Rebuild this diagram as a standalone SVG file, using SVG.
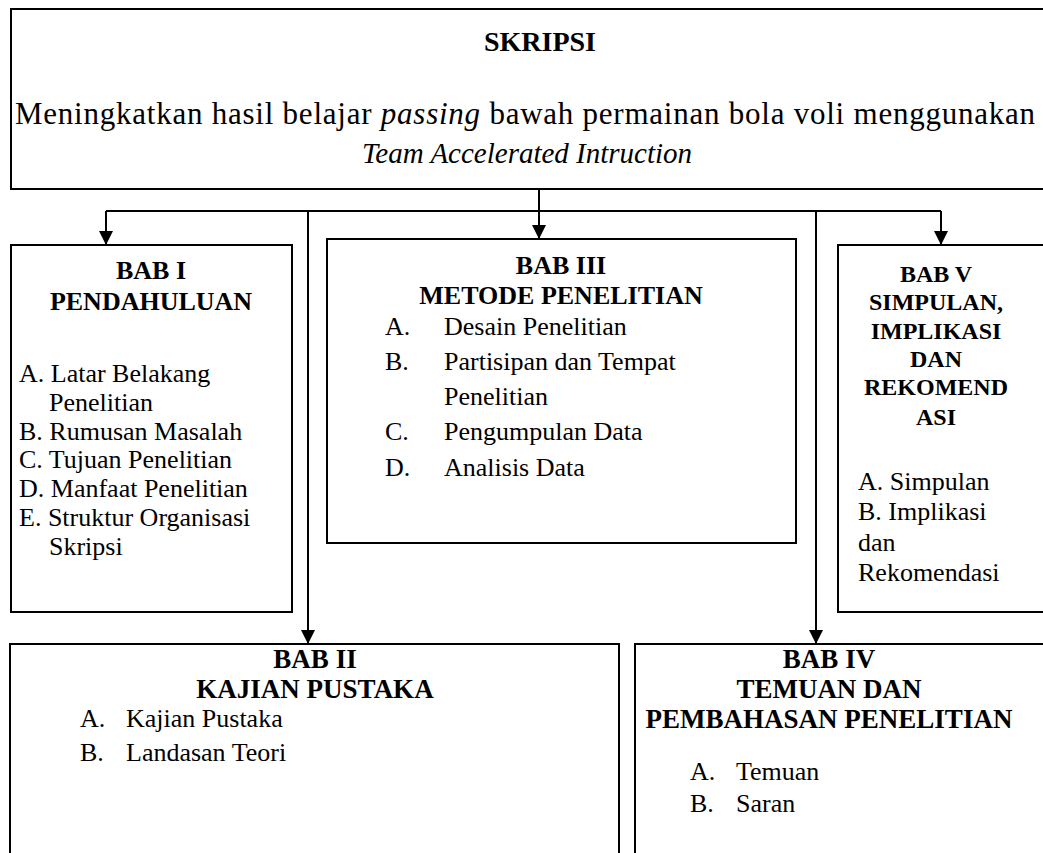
<svg xmlns="http://www.w3.org/2000/svg" width="1043" height="853" viewBox="0 0 1043 853">
<defs>
<marker id="ah" viewBox="0 0 10 10" refX="10" refY="5" markerWidth="7" markerHeight="7" markerUnits="strokeWidth" orient="auto">
<path d="M0,0 L10,5 L0,10 z" fill="#000"/>
</marker>
<style>
.box{fill:#fff;stroke:#000;stroke-width:2}
.ln{fill:none;stroke:#000;stroke-width:2}
.t{font-family:"Liberation Serif","Times New Roman",serif;fill:#000}
.h{font-weight:bold;text-anchor:middle}
.s24{font-size:24px}
.s26{font-size:26px}
.s27{font-size:27px}
</style>
</defs>
<rect width="1043" height="853" fill="#fff"/>
<g id="connectors">
<line class="ln" x1="106" y1="211" x2="941" y2="211"/>
<line class="ln" x1="539" y1="189" x2="539" y2="239" marker-end="url(#ah)"/>
<line class="ln" x1="106" y1="211" x2="106" y2="245" marker-end="url(#ah)"/>
<line class="ln" x1="308" y1="211" x2="308" y2="644" marker-end="url(#ah)"/>
<line class="ln" x1="816" y1="211" x2="816" y2="644" marker-end="url(#ah)"/>
<line class="ln" x1="941" y1="211" x2="941" y2="245" marker-end="url(#ah)"/>
</g>
<g id="skripsi">
<rect class="box" x="11" y="9" width="1045" height="180"/>
<text class="t" x="540" y="51" font-size="28" font-weight="bold" text-anchor="middle">SKRIPSI</text>
<text class="t" x="15" y="124" font-size="31" textLength="1020" lengthAdjust="spacing">Meningkatkan hasil belajar <tspan font-style="italic">passing</tspan> bawah permainan bola voli menggunakan</text>
<text class="t" x="527" y="163" font-size="29" font-style="italic" text-anchor="middle">Team Accelerated Intruction</text>
</g>
<g id="bab1">
<rect class="box" x="11" y="245" width="281" height="367"/>
<text class="t h s26" x="151" y="279">BAB I</text>
<text class="t h s26" x="151" y="310">PENDAHULUAN</text>
<text class="t s26" x="19" y="382">A. Latar Belakang</text>
<text class="t s26" x="49" y="411">Penelitian</text>
<text class="t s26" x="19" y="440">B. Rumusan Masalah</text>
<text class="t s26" x="19" y="468">C. Tujuan Penelitian</text>
<text class="t s26" x="19" y="497">D. Manfaat Penelitian</text>
<text class="t s26" x="19" y="526">E. Struktur Organisasi</text>
<text class="t s26" x="49" y="555">Skripsi</text>
</g>
<g id="bab3">
<rect class="box" x="327" y="239" width="469" height="304"/>
<text class="t h s26" x="561" y="274">BAB III</text>
<text class="t h s26" x="561" y="304">METODE PENELITIAN</text>
<text class="t s26" x="385" y="335">A.</text><text class="t s26" x="444" y="335">Desain Penelitian</text>
<text class="t s26" x="385" y="370">B.</text><text class="t s26" x="444" y="370">Partisipan dan Tempat</text>
<text class="t s26" x="444" y="405">Penelitian</text>
<text class="t s26" x="385" y="440">C.</text><text class="t s26" x="444" y="440">Pengumpulan Data</text>
<text class="t s26" x="385" y="476">D.</text><text class="t s26" x="444" y="476">Analisis Data</text>
</g>
<g id="bab5">
<rect class="box" x="838" y="245" width="215" height="367"/>
<text class="t h s24" x="936" y="282">BAB V</text>
<text class="t h s24" x="936" y="310">SIMPULAN,</text>
<text class="t h s24" x="936" y="339">IMPLIKASI</text>
<text class="t h s24" x="936" y="367">DAN</text>
<text class="t h s24" x="936" y="395">REKOMEND</text>
<text class="t h s24" x="936" y="425">ASI</text>
<text class="t s26" x="858" y="490">A. Simpulan</text>
<text class="t s26" x="858" y="520">B. Implikasi</text>
<text class="t s26" x="858" y="551">dan</text>
<text class="t s26" x="858" y="581">Rekomendasi</text>
</g>
<g id="bab2">
<rect class="box" x="10" y="644" width="609" height="230"/>
<text class="t h s27" x="315" y="668">BAB II</text>
<text class="t h s27" x="315" y="698">KAJIAN PUSTAKA</text>
<text class="t s26" x="80" y="727">A.</text><text class="t s26" x="126" y="727">Kajian  Pustaka</text>
<text class="t s26" x="80" y="761">B.</text><text class="t s26" x="126" y="761">Landasan Teori</text>
</g>
<g id="bab4">
<rect class="box" x="635" y="644" width="420" height="230"/>
<text class="t h s27" x="829" y="668">BAB IV</text>
<text class="t h s27" x="829" y="698">TEMUAN DAN</text>
<text class="t h s27" x="829" y="728">PEMBAHASAN PENELITIAN</text>
<text class="t s26" x="690" y="780">A.</text><text class="t s26" x="736" y="780">Temuan</text>
<text class="t s26" x="690" y="812">B.</text><text class="t s26" x="736" y="812">Saran</text>
</g>
</svg>
